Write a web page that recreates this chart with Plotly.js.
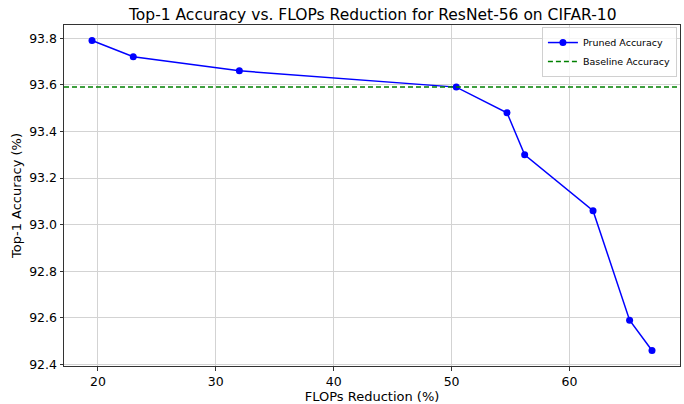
<!DOCTYPE html>
<html>
<head>
<meta charset="utf-8">
<script src="https://cdn.plot.ly/plotly-3.0.1.min.js"></script>
<style>html,body{margin:0;padding:0;background:#fff;}#chart{width:684px;height:404px;}</style>
</head>
<body>
<div id="chart"></div>
<script>
const flopsReduction = [19.5, 23.0, 32.0, 50.4, 54.7, 56.2, 62.0, 65.1, 67.0];
const top1Accuracy = [93.79, 93.72, 93.66, 93.59, 93.48, 93.30, 93.06, 92.59, 92.46];
const baselineAccuracy = 93.59;
const xTicks = [20, 30, 40, 50, 60];
const yTicks = [92.4, 92.6, 92.8, 93.0, 93.2, 93.4, 93.6, 93.8];
const yTickLabels = ['92.4', '92.6', '92.8', '93.0', '93.2', '93.4', '93.6', '93.8'];

function padded(arr) {
  const mn = Math.min(...arr), mx = Math.max(...arr), m = (mx - mn) * 0.05;
  return [mn - m, mx + m];
}
const xRange = padded(flopsReduction);
const yRange = padded(top1Accuracy);

const font = 'DejaVu Sans, sans-serif';
const traces = [
  {
    x: flopsReduction, y: top1Accuracy, type: 'scatter', mode: 'lines+markers',
    name: 'Pruned Accuracy',
    line: {color: '#0000ff', width: 1.5},
    marker: {color: '#0000ff', size: 7}
  },
  {
    x: xRange, y: [baselineAccuracy, baselineAccuracy], type: 'scatter', mode: 'lines',
    name: 'Baseline Accuracy',
    line: {color: '#008000', width: 1.5, dash: '5px,3px'}
  }
];

const layout = {
  width: 684, height: 404,
  margin: {l: 64, r: 4, t: 25, b: 38},
  paper_bgcolor: '#fff', plot_bgcolor: '#fff',
  font: {family: font, color: '#000', size: 12},
  title: {text: 'Top-1 Accuracy vs. FLOPs Reduction for ResNet-56 on CIFAR-10',
          font: {family: font, size: 15.5, color: '#000'}, x: 0.545, xanchor: 'center', y: 0.965, yanchor: 'middle'},
  xaxis: {
    range: xRange, tickvals: xTicks, ticktext: xTicks.map(String),
    showgrid: true, gridcolor: '#d3d3d3', gridwidth: 1,
    showline: true, linecolor: '#333', linewidth: 1, mirror: true,
    ticks: 'outside', ticklen: 3.5, tickcolor: '#333', tickfont: {size: 12.5},
    zeroline: false,
    title: {text: 'FLOPs Reduction (%)', font: {size: 13}, standoff: 6}
  },
  yaxis: {
    range: yRange, tickvals: yTicks, ticktext: yTickLabels,
    showgrid: true, gridcolor: '#d3d3d3', gridwidth: 1,
    showline: true, linecolor: '#333', linewidth: 1, mirror: true,
    ticks: 'outside', ticklen: 3.5, tickcolor: '#333', tickfont: {size: 12.5},
    zeroline: false,
    title: {text: 'Top-1 Accuracy (%)', font: {size: 13}, standoff: 4}
  },
  legend: {
    x: 0.995, y: 0.994, xanchor: 'right', yanchor: 'top',
    bgcolor: 'rgba(255,255,255,0.8)', bordercolor: '#d0d0d0', borderwidth: 1,
    font: {size: 9.5}, tracegroupgap: 0, itemwidth: 30
  },
  showlegend: true
};

Plotly.newPlot('chart', traces, layout, {staticPlot: true, displayModeBar: false});
</script>
</body>
</html>
